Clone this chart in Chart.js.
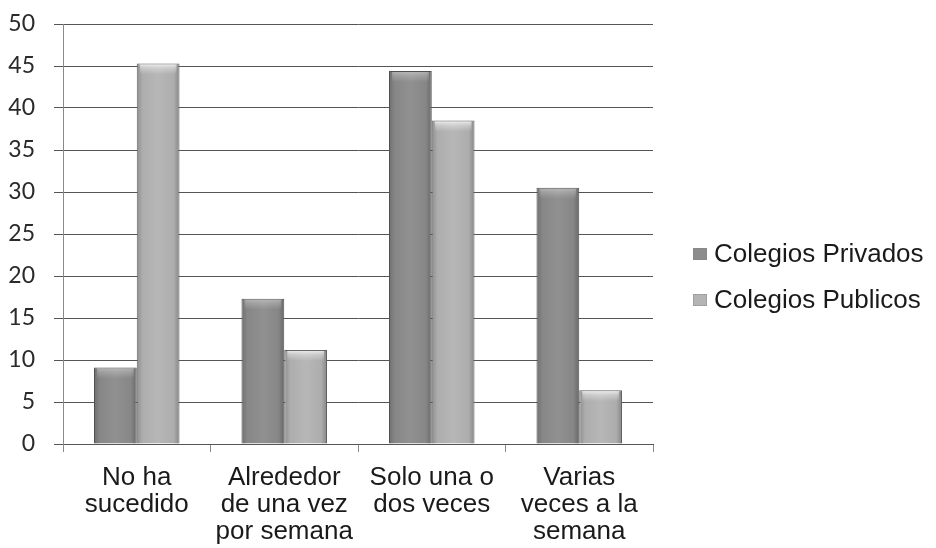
<!DOCTYPE html>
<html>
<head>
<meta charset="utf-8">
<script src="https://cdn.jsdelivr.net/npm/chart.js@4/dist/chart.umd.min.js"></script>
<style>
  html, body { margin: 0; padding: 0; background: #ffffff; }
  #wrap { width: 936px; height: 548px; position: relative; }
</style>
</head>
<body>
<div id="wrap"><canvas id="chart"></canvas></div>
<script>
// Categories (multi-line axis labels)
const categories = [
  ["No ha", "sucedido"],
  ["Alrededor", "de una vez", "por semana"],
  ["Solo una o", "dos veces"],
  ["Varias", "veces a la", "semana"]
];
const seriesNames = ["Colegios Privados", "Colegios Publicos"];
const privados = [9.1, 17.3, 44.4, 30.5];
const publicos = [45.3, 11.2, 38.5, 6.4];
const yMin = 0;
const yMax = 50;
const yStep = 5;

const fills = ["#8c8c8c", "#b4b4b4"];
const edges = ["#505050", "#606060"];

// Adds the bevel look to each bar: darker side edges and a soft light band at the top
const bevelPlugin = {
  id: "bevel",
  afterDatasetsDraw(chart) {
    const ctx = chart.ctx;
    chart.data.datasets.forEach((ds, di) => {
      const meta = chart.getDatasetMeta(di);
      meta.data.forEach(bar => {
        const { x, y, base, width } = bar.getProps(["x", "y", "base", "width"], true);
        const l = x - width / 2 + 1, r = x + width / 2 - 1;
        const t = Math.min(y, base) + 1, b = Math.max(y, base);
        const w = r - l, h = b - t;
        ctx.save();
        const g = ctx.createLinearGradient(l, 0, r, 0);
        g.addColorStop(0, "rgba(0,0,0,0.18)");
        g.addColorStop(0.12, "rgba(0,0,0,0.04)");
        g.addColorStop(0.5, "rgba(255,255,255,0.04)");
        g.addColorStop(0.88, "rgba(0,0,0,0.04)");
        g.addColorStop(1, "rgba(0,0,0,0.22)");
        ctx.fillStyle = g;
        ctx.fillRect(l, t, w, h);
        const hh = Math.min(10, h);
        const tg = ctx.createLinearGradient(0, t, 0, t + hh);
        tg.addColorStop(0, di === 0 ? "rgba(255,255,255,0.35)" : "rgba(255,255,255,0.7)");
        tg.addColorStop(0.35, di === 0 ? "rgba(255,255,255,0.2)" : "rgba(255,255,255,0.35)");
        tg.addColorStop(1, "rgba(255,255,255,0)");
        ctx.fillStyle = tg;
        ctx.fillRect(l + 2, t, w - 4, hh);
        ctx.restore();
      });
    });
  }
};

// Legend drawn to the right of the plot area
const sideLegend = {
  id: "sideLegend",
  afterDraw(chart) {
    const ctx = chart.ctx;
    const area = chart.chartArea;
    const boxX = area.right + 40;
    const textX = boxX + 21;
    const mid = chart.height / 2 + 3;
    const rows = [mid - 23, mid + 23];
    ctx.save();
    ctx.font = '26px "Liberation Sans", Arial, sans-serif';
    ctx.textBaseline = "middle";
    ctx.textAlign = "left";
    seriesNames.forEach((name, i) => {
      const cy = rows[i];
      ctx.fillStyle = fills[i];
      ctx.fillRect(boxX, cy - 6, 14, 12);
      ctx.strokeStyle = i === 0 ? "#888888" : "#a0a0a0";
      ctx.lineWidth = 1;
      ctx.strokeRect(boxX + 0.5, cy - 5.5, 13, 11);
      ctx.fillStyle = "#1a1a1a";
      ctx.fillText(name, textX, cy + 1);
    });
    ctx.restore();
  }
};

new Chart(document.getElementById("chart"), {
  type: "bar",
  data: {
    labels: categories,
    datasets: [
      {
        label: seriesNames[0],
        data: privados,
        backgroundColor: fills[0],
        borderColor: edges[0],
        borderWidth: 1,
        categoryPercentage: 0.58,
        barPercentage: 1.0
      },
      {
        label: seriesNames[1],
        data: publicos,
        backgroundColor: fills[1],
        borderColor: edges[1],
        borderWidth: 1,
        categoryPercentage: 0.58,
        barPercentage: 1.0
      }
    ]
  },
  options: {
    responsive: true,
    maintainAspectRatio: false,
    animation: false,
    layout: { padding: { left: 0, top: 24, right: 283, bottom: 0 } },
    plugins: {
      legend: { display: false },
      tooltip: { enabled: false }
    },
    scales: {
      x: {
        offset: true,
        afterFit(scale) { scale.height = 104; },
        grid: {
          offset: true,
          drawOnChartArea: false,
          drawTicks: true,
          tickLength: 8,
          color: "#8a8a8a"
        },
        border: { display: true, color: "#555555" },
        ticks: {
          padding: 12,
          color: "#1a1a1a",
          font: { family: '"Liberation Sans", Arial, sans-serif', size: 26, lineHeight: "27px" },
          maxRotation: 0,
          autoSkip: false
        }
      },
      y: {
        min: yMin,
        max: yMax,
        afterFit(scale) {
          scale.width = 63;
          scale.paddingTop = 0;
          scale.paddingBottom = 0;
        },
        grid: {
          color: "#555555",
          lineWidth: 1,
          drawTicks: true,
          tickLength: 9
        },
        border: { display: true, color: "#8a8a8a" },
        ticks: {
          stepSize: yStep,
          padding: 19,
          color: "#2a2a2a",
          font: { family: 'Lato, "Open Sans", sans-serif', size: 23 }
        }
      }
    }
  },
  plugins: [bevelPlugin, sideLegend]
});
</script>
</body>
</html>
